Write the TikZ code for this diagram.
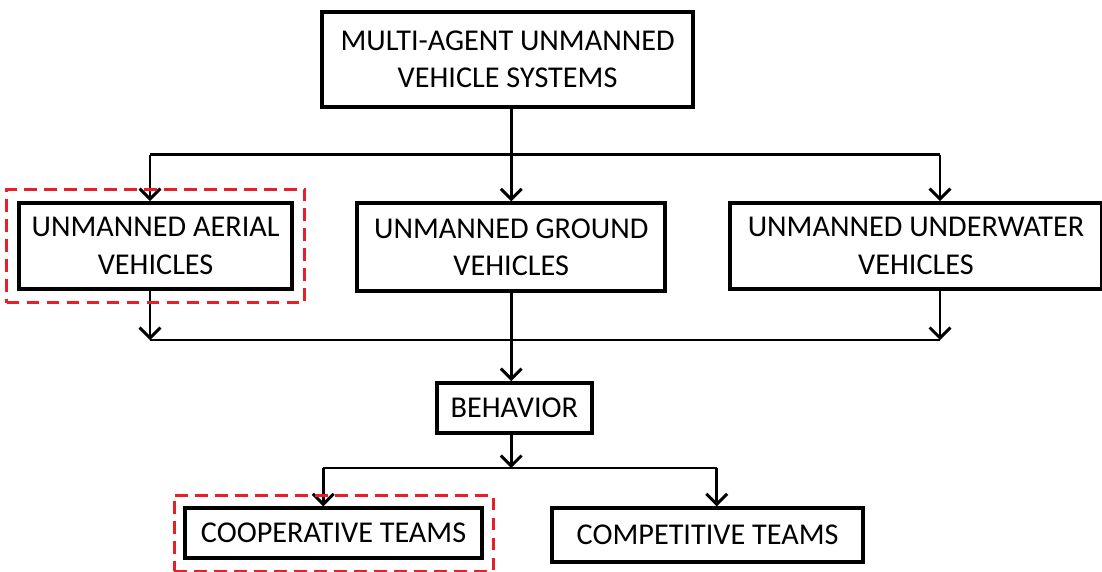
\documentclass[tikz,border=0pt]{standalone}
\usepackage{fontspec}
\setmainfont{Carlito}
\usetikzlibrary{arrows.meta,positioning,fit}
\definecolor{markred}{RGB}{232,30,40}

\begin{document}
\begin{tikzpicture}[
  font=\fontsize{21.5}{26.5}\selectfont,
  box/.style={draw=black, line width=2.7pt, align=center, inner sep=0pt},
  link/.style={draw=black, line width=2.1pt},
  arr/.style={link, -{Straight Barb[length=2.6mm,width=5.2mm,line width=2.1pt]}},
  focus/.style={draw=markred, line width=2.2pt, dash pattern=on 3.2mm off 1.8mm}
]
\useasboundingbox (0,0) rectangle (27.55,-14.275);
% tree of boxes
\node[box, minimum width=9.27cm, minimum height=2.37cm] (mauvs) at (12.69,-1.49) {MULTI-AGENT UNMANNED\\ VEHICLE SYSTEMS};
\node[box, minimum width=6.82cm, minimum height=2.15cm] (uav) at (3.89,-6.15) {UNMANNED AERIAL\\VEHICLES};
\node[box, minimum width=7.7cm, minimum height=2.2cm] (ugv) at (12.78,-6.18) {UNMANNED GROUND\\VEHICLES};
\node[box, minimum width=9.3cm, minimum height=2.15cm] (uuv) at (22.9,-6.15) {UNMANNED UNDERWATER\\VEHICLES};
\node[box, minimum width=3.87cm, minimum height=1.25cm] (behav) at (12.86,-10.2) {BEHAVIOR};
\node[box, minimum width=7.42cm, minimum height=1.25cm] (coop) at (8.34,-13.33) {COOPERATIVE TEAMS};
\node[box, minimum width=7.77cm, minimum height=1.35cm] (comp) at (17.69,-13.38) {COMPETITIVE TEAMS};

% bus lines
\coordinate (forkL) at (3.75,-3.87);
\coordinate (forkR) at (23.5,-3.87);
\coordinate (joinL) at (3.75,-8.5);
\coordinate (joinR) at (23.5,-8.5);
\coordinate (splitL) at (8.08,-11.7);
\coordinate (splitR) at (17.92,-11.7);

\draw[link] (mauvs.south -| ugv.south) -- (forkL -| ugv.south);
\draw[link] (forkL) -- (forkR);
\draw[arr] (forkL) -- (forkL |- uav.north);
\draw[arr] (forkL -| ugv.south) -- (ugv.north);
\draw[arr] (forkR) -- (forkR |- uuv.north);

\draw[arr] (joinL |- uav.south) -- (joinL);
\draw[arr] (joinR |- uuv.south) -- (joinR);
\draw[link] (joinL) -- (joinR);
\draw[arr] (ugv.south) -- (ugv.south |- behav.north);

\draw[arr] (ugv.south |- behav.south) -- (ugv.south |- splitL);
\draw[link] (splitL) -- (splitR);
\draw[arr] (splitL) -- (splitL |- coop.north);
\draw[arr] (splitR) -- (splitR |- comp.north);

% highlighted groups
\node[focus, fit=(uav), inner xsep=0.27cm, inner ysep=0.3cm] (uavmark) {};
\node[focus, fit=(coop), inner xsep=0.23cm, inner ysep=0.28cm] (coopmark) {};
\end{tikzpicture}
\end{document}
